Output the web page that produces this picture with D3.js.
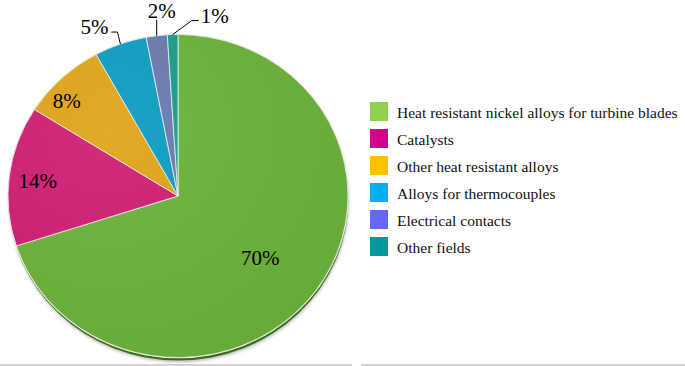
<!DOCTYPE html>
<html>
<head>
<meta charset="utf-8">
<script src="https://cdn.jsdelivr.net/npm/d3@7"></script>
<style>
  body { margin: 0; background: #fff; }
  text { font-family: "Liberation Serif", "Times New Roman", serif; }
</style>
</head>
<body>
<div id="pie_chart"></div>
<script>
// Chart data
const categories = ["Heat resistant nickel alloys for turbine blades", "Catalysts", "Other heat resistant alloys",
  "Alloys for thermocouples", "Electrical contacts", "Other fields"];
const shares = [70, 14, 8, 5, 2, 1];
const labels = ["70%", "14%", "8%", "5%", "2%", "1%"];

// Colours of slices and of legend swatches
const sliceColors = ["#6db33b", "#d01f74", "#e0a519", "#0f9cc4", "#6a7bb0", "#1b9c8b"];
const legendColors = ["#92d050", "#d4008a", "#ffc000", "#00b0f0", "#6666ff", "#009999"];

const width = 685, height = 366;
const cx = 178, cy = 196, rx = 170, ry = 161.5;

const svg = d3.select("#pie_chart")
  .append("svg")
    .attr("width", width)
    .attr("height", height);

const defs = svg.append("defs");
defs.append("filter").attr("id", "blur")
  .attr("x", "-10%").attr("y", "-10%").attr("width", "120%").attr("height", "120%")
  .append("feGaussianBlur").attr("stdDeviation", 1.5);

// bottom rules
svg.append("line").attr("x1", 0).attr("x2", 352).attr("y1", 365).attr("y2", 365)
  .attr("stroke", "#c4c4c4").attr("stroke-width", 1.5);
svg.append("line").attr("x1", 361).attr("x2", 685).attr("y1", 365).attr("y2", 365)
  .attr("stroke", "#c4c4c4").attr("stroke-width", 1.5);

const pie = d3.pie().sort(null).value(d => d);
const arcs = pie(shares);
const arc = d3.arc().innerRadius(0).outerRadius(rx);

// squashed circle for the tilted look
const g = svg.append("g")
  .attr("transform", `translate(${cx},${cy}) scale(1,${ry / rx})`);

// soft shadow and thickness under the pie
g.append("ellipse")
  .attr("cx", 1).attr("cy", 5)
  .attr("rx", rx).attr("ry", rx)
  .attr("fill", "#999")
  .attr("opacity", 0.6)
  .attr("filter", "url(#blur)");
g.append("ellipse")
  .attr("cx", 0.5).attr("cy", 3.2)
  .attr("rx", rx).attr("ry", rx)
  .attr("fill", "#3f6a22");
g.append("ellipse")
  .attr("cx", 0).attr("cy", 0)
  .attr("rx", rx + 0.8).attr("ry", rx + 0.8)
  .attr("fill", "#e8efe0");

g.selectAll("path.slice")
  .data(arcs)
  .join("path")
    .attr("class", "slice")
    .attr("d", arc)
    .attr("fill", (d, i) => sliceColors[i])
    .attr("stroke", "#f4f4f4")
    .attr("stroke-width", 0.8);

// soft lighting
const grad = defs.append("radialGradient").attr("id", "shine")
  .attr("cx", "30%").attr("cy", "30%").attr("r", "80%");
grad.append("stop").attr("offset", "0%").attr("stop-color", "#fff").attr("stop-opacity", 0.06);
grad.append("stop").attr("offset", "100%").attr("stop-color", "#000").attr("stop-opacity", 0.05);
g.append("circle").attr("r", rx).attr("fill", "url(#shine)");

// point on the ellipse at angle a
const edge = (a, k) => [cx + k * rx * Math.sin(a), cy - k * ry * Math.cos(a)];
const mid = d => (d.startAngle + d.endAngle) / 2;
const deg = Math.PI / 180;

// inside labels: radius fraction and angle shift (degrees) from slice middle
const insidePos = [{k: 0.62, shift: 2.6}, {k: 0.83, shift: -0.8}, {k: 0.88, shift: -4.8}];
arcs.slice(0, 3).forEach((d, i) => {
  const [x, y] = edge(mid(d) + insidePos[i].shift * deg, insidePos[i].k);
  svg.append("text")
    .attr("x", x).attr("y", y)
    .attr("text-anchor", "middle")
    .attr("dominant-baseline", "central")
    .attr("font-size", 21)
    .text(labels[i]);
});

// outside labels with leader lines: elbow offset, end offset, text offset, anchor
const leaders = [
  {elbow: [-3, -12], end: [-9, -12], text: [-12, -17], anchor: "end"},
  {elbow: [0, -16], end: [0, -16], text: [5, -24.5], anchor: "middle"},
  {elbow: [19, -14], end: [26, -14], text: [28, -19], anchor: "start"}
];
arcs.slice(3).forEach((d, j) => {
  const i = j + 3, L = leaders[j];
  const [x0, y0] = edge(mid(d), 1);
  svg.append("polyline")
    .attr("points", [[x0, y0], [x0 + L.elbow[0], y0 + L.elbow[1]], [x0 + L.end[0], y0 + L.end[1]]].join(" "))
    .attr("fill", "none")
    .attr("stroke", "#000")
    .attr("stroke-width", 1);
  svg.append("text")
    .attr("x", x0 + L.text[0]).attr("y", y0 + L.text[1])
    .attr("text-anchor", L.anchor)
    .attr("dominant-baseline", "central")
    .attr("font-size", 21)
    .text(labels[i]);
});

// Legend
const legend = svg.append("g").attr("transform", "translate(370,102)");
const rows = legend.selectAll("g")
  .data(categories)
  .join("g")
    .attr("transform", (d, i) => `translate(0,${i * 27})`);
rows.append("rect")
  .attr("width", 18).attr("height", 19)
  .attr("fill", (d, i) => legendColors[i]);
rows.append("text")
  .attr("x", 27).attr("y", 10)
  .attr("dominant-baseline", "central")
  .attr("font-size", 15.5)
  .attr("fill", "#111")
  .text(d => d);
</script>
</body>
</html>
